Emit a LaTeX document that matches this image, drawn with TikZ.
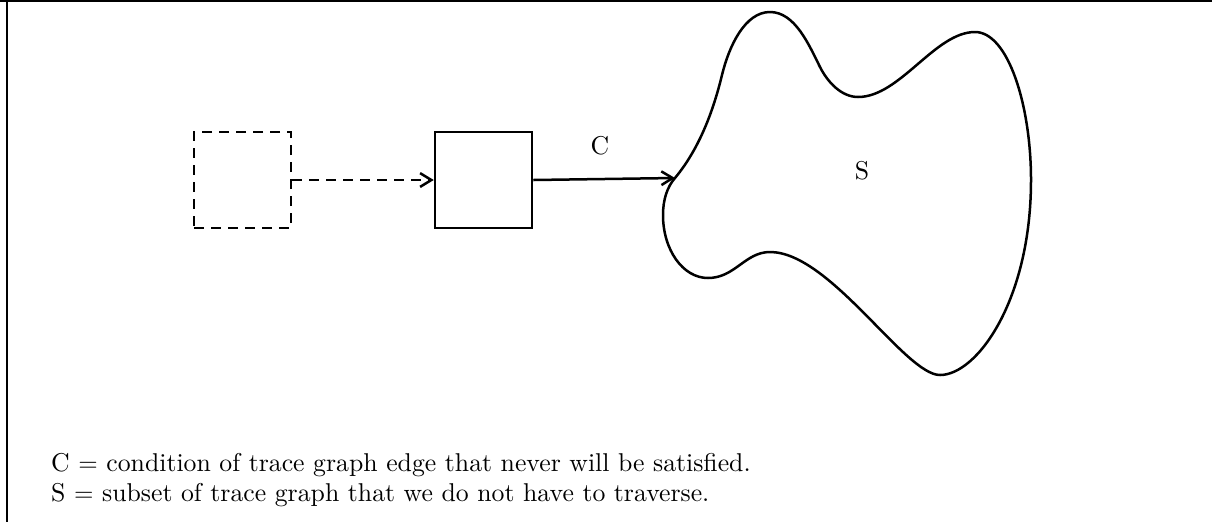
\documentclass[tikz,border=0pt]{standalone}
\usepackage{tikz}
\usetikzlibrary{positioning,arrows.meta}
\begin{document}
\begin{tikzpicture}[
  x=0.4pt, y=-0.4pt, >={Straight Barb[length=4.5pt,width=5.5pt]},
  line width=1pt, font=\fontsize{10.3pt}{12pt}\selectfont,
  blk/.style={draw,minimum width=38.8pt,minimum height=38.4pt,inner sep=0pt},
  ghost/.style={blk,dash pattern=on 4pt off 2.8pt},
  flow/.style={->},
  note/.style={anchor=base west,inner sep=0pt},
]
\useasboundingbox (0,0) rectangle (1212,522);
% frame
\draw (0,1) -- (1212,1);
\draw (7,0) -- (7,522);
\node[ghost] (prev) at (242.5,180) {};
\node[blk] (cur) at (483.5,180) {};
\coordinate (entry) at (675,178);
\draw[dash pattern=on 4pt off 2.8pt,->] (prev.east) -- (cur.west);
\draw[flow] (cur.east) -- (entry);
\node (clab) at (600,146) {C};
% subset blob
\draw (entry) .. controls (699,149) and (713,112) .. (722,75)
  .. controls (729,46) and (745,12) .. (770,12)
  .. controls (795,12) and (809,45) .. (820,67)
  .. controls (828,83) and (842,97) .. (858,97)
  .. controls (900,97) and (935,32) .. (975,32)
  .. controls (1008,32) and (1031,105) .. (1031,180)
  .. controls (1031,300) and (977,375) .. (940,375)
  .. controls (905,375) and (830,252) .. (770,252)
  .. controls (745,252) and (735,278) .. (708,278)
  .. controls (683,278) and (663,250) .. (663,215)
  .. controls (663,200) and (667,187) .. cycle;
\node (slab) at (862,171) {S};
\node[note] (cdef) at (50,471) {C $=$ condition of trace graph edge that never will be satisfied.};
\node[note] (sdef) at (50,501) {S $=$ subset of trace graph that we do not have to traverse.};
\end{tikzpicture}
\end{document}
